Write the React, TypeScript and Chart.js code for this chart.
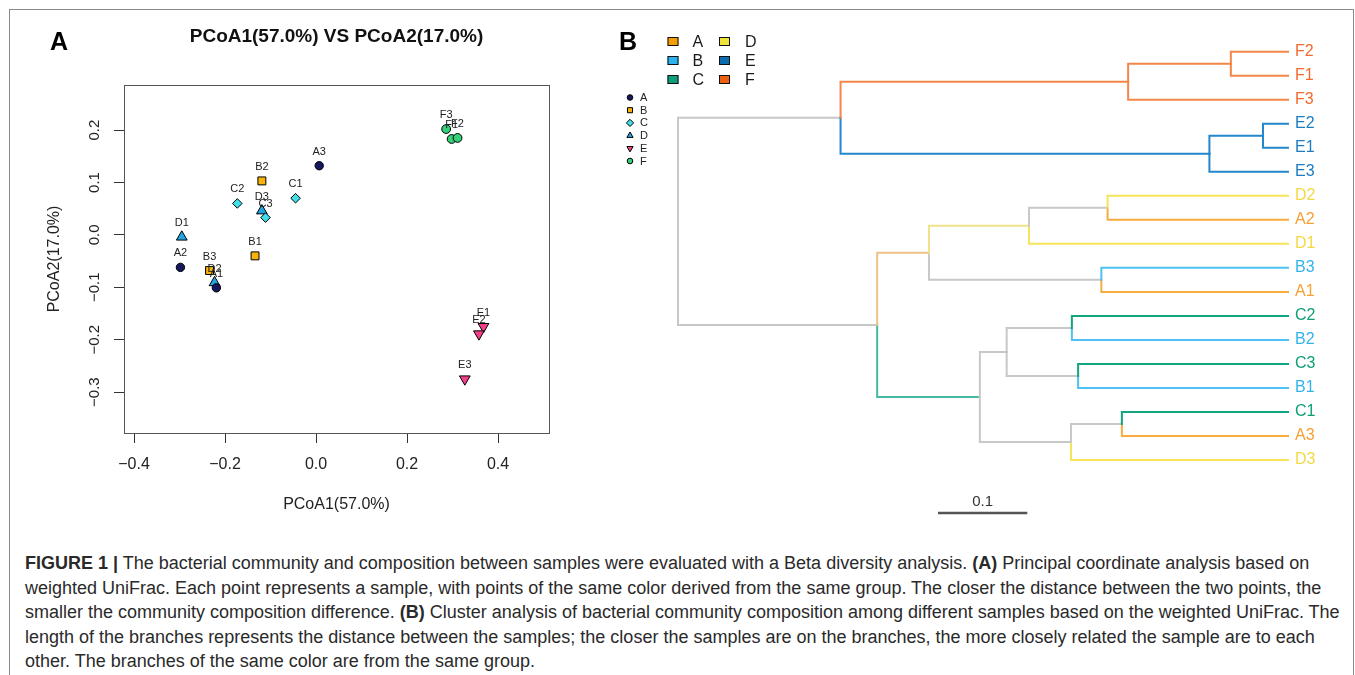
import React, { useEffect, useRef } from 'react';
import { Chart, registerables } from 'chart.js';

Chart.register(...registerables);

const FONT = "'Liberation Sans', Arial, Helvetica, sans-serif";

// ---------------- Panel A: PCoA data ----------------
const sampleNames = ['A1', 'A2', 'A3', 'B1', 'B2', 'B3', 'C1', 'C2', 'C3', 'D1', 'D2', 'D3', 'E1', 'E2', 'E3', 'F1', 'F2', 'F3'];
const pcoa1Values = [-0.219, -0.298, 0.007, -0.134, -0.119, -0.234, -0.045, -0.173, -0.111, -0.295, -0.223, -0.119, 0.368, 0.358, 0.327, 0.298, 0.311, 0.286];
const pcoa2Values = [-0.101, -0.062, 0.132, -0.040, 0.103, -0.068, 0.070, 0.060, 0.033, -0.004, -0.091, 0.046, -0.175, -0.189, -0.275, 0.183, 0.185, 0.202];
const groupNames = ['A', 'B', 'C', 'D', 'E', 'F'];
const pcoaXTicks = [-0.4, -0.2, 0, 0.2, 0.4];
const pcoaYTicks = [-0.3, -0.2, -0.1, 0, 0.1, 0.2];
const pcoaXRange = [-0.422, 0.512];
const pcoaYRange = [-0.378, 0.286];
const pcoaTitle = 'PCoA1(57.0%) VS PCoA2(17.0%)';
const pcoaXTitle = 'PCoA1(57.0%)';
const pcoaYTitle = 'PCoA2(17.0%)';

// ---------------- Panel B: cluster tree data ----------------
const leafLabels = ['F2', 'F1', 'F3', 'E2', 'E1', 'E3', 'D2', 'A2', 'D1', 'B3', 'A1', 'C2', 'B2', 'C3', 'B1', 'C1', 'A3', 'D3'];
// hclust-style merges: negative = leaf (1-based), positive = earlier merge (1-based)
const mergeLeft = [-4, -1, 1, 2, -16, -7, -10, -14, -12, 5, 6, 9, 12, 11, 14, 4, 16];
const mergeRight = [-5, -2, -6, -3, -17, -8, -11, -15, -13, -18, -9, 8, 10, 7, 13, 3, 15];
const mergeHeight = [0.028, 0.064, 0.088, 0.179, 0.186, 0.202, 0.209, 0.235, 0.242, 0.243, 0.290, 0.315, 0.345, 0.402, 0.460, 0.501, 0.683];
const scaleBarValue = 0.1;

// ---------------- Styles ----------------
const pointStyles: Record<string, { shape: string; radius: number; rotation: number; color: string }> = {
  A: { shape: 'circle', radius: 4.2, rotation: 0, color: '#17175E' },
  B: { shape: 'rect', radius: 5.6, rotation: 0, color: '#F9B208' },
  C: { shape: 'rectRot', radius: 4.8, rotation: 0, color: '#3FE0EA' },
  D: { shape: 'triangle', radius: 6.2, rotation: 0, color: '#22A5E0' },
  E: { shape: 'triangle', radius: 6.2, rotation: 180, color: '#F2408A' },
  F: { shape: 'circle', radius: 4.4, rotation: 0, color: '#35D07A' },
};
const treeLineColor: Record<string, string> = {
  A: '#F8AB3E', B: '#4EC2F2', C: '#12A57F', D: '#F6E35A', E: '#2387CC', F: '#F4864A',
};
const treeLabelColor: Record<string, string> = {
  A: '#F7A033', B: '#33B3EA', C: '#0E9E76', D: '#F3D846', E: '#1D7CC2', F: '#F26A30',
};
const legendFill: Record<string, string> = {
  A: '#F29F05', B: '#2DB2EE', C: '#0F9F78', D: '#EEE43A', E: '#0E6DAE', F: '#EA6212',
};
const GRAY = '#C8C8C8';
const mergeColor = [
  treeLineColor.E, treeLineColor.F, treeLineColor.E, treeLineColor.F,
  GRAY, GRAY, GRAY, GRAY, GRAY, GRAY, '#F0E386', GRAY, '#45B9A2', '#EDC285', GRAY, GRAY, GRAY,
];

const fmt = (v: number) => (v < 0 ? '\u2212' : '') + Math.abs(v).toFixed(1);

function buildTreeSegments() {
  const nodeY: number[] = [];
  const info = (ref: number) =>
    ref < 0
      ? { h: 0, y: -ref - 1, color: treeLineColor[leafLabels[-ref - 1][0]] }
      : { h: mergeHeight[ref - 1], y: nodeY[ref - 1], color: mergeColor[ref - 1] };
  const segs: { color: string; data: { x: number; y: number }[] }[] = [];
  for (let k = 0; k < mergeHeight.length; k++) {
    const a = info(mergeLeft[k]);
    const b = info(mergeRight[k]);
    const y = (a.y + b.y) / 2;
    nodeY[k] = y;
    const H = mergeHeight[k];
    [a, b].forEach((c) => {
      segs.push({ color: c.color, data: [{ x: H, y }, { x: H, y: c.y }, { x: c.h, y: c.y }] });
    });
  }
  return segs;
}

function drawSymbol(ctx: CanvasRenderingContext2D, shape: string, rot: number, x: number, y: number, r: number, fill: string) {
  ctx.save();
  ctx.beginPath();
  if (shape === 'circle') {
    ctx.arc(x, y, r, 0, Math.PI * 2);
  } else if (shape === 'rect') {
    const s = r * Math.SQRT1_2;
    ctx.rect(x - s, y - s, 2 * s, 2 * s);
  } else if (shape === 'rectRot') {
    ctx.moveTo(x, y - r); ctx.lineTo(x + r, y); ctx.lineTo(x, y + r); ctx.lineTo(x - r, y); ctx.closePath();
  } else {
    const d = rot ? -1 : 1;
    ctx.moveTo(x, y - d * r);
    ctx.lineTo(x + r * 0.866, y + d * r * 0.5);
    ctx.lineTo(x - r * 0.866, y + d * r * 0.5);
    ctx.closePath();
  }
  ctx.fillStyle = fill;
  ctx.fill();
  ctx.lineWidth = 1;
  ctx.strokeStyle = '#000';
  ctx.stroke();
  ctx.restore();
}

const panelAPlugin = {
  id: 'panelA',
  afterDatasetsDraw(chart: any) {
    const ctx = chart.ctx as CanvasRenderingContext2D;
    ctx.save();
    ctx.font = `11px ${FONT}`;
    ctx.fillStyle = '#222';
    ctx.textAlign = 'center';
    ctx.textBaseline = 'middle';
    chart.data.datasets.forEach((ds: any, i: number) => {
      const meta = chart.getDatasetMeta(i);
      meta.data.forEach((pt: any, j: number) => {
        ctx.fillText(ds.names[j], pt.x, pt.y - 14);
      });
    });
    ctx.restore();
  },
  afterDraw(chart: any) {
    const ctx = chart.ctx as CanvasRenderingContext2D;
    const ca = chart.chartArea;
    const ys = chart.scales.y;
    ctx.save();
    ctx.strokeStyle = '#555';
    ctx.lineWidth = 1;
    ctx.strokeRect(Math.round(ca.left) + 0.5, Math.round(ca.top) + 0.5, Math.round(ca.right - ca.left), Math.round(ca.bottom - ca.top));
    ctx.fillStyle = '#222';
    ctx.textAlign = 'center';
    ctx.textBaseline = 'middle';
    ctx.font = `15px ${FONT}`;
    pcoaYTicks.forEach((v) => {
      const py = ys.getPixelForValue(v);
      ctx.save();
      ctx.translate(95, py);
      ctx.rotate(-Math.PI / 2);
      ctx.fillText(fmt(v), 0, 0);
      ctx.restore();
    });
    const cx = (ca.left + ca.right) / 2;
    const cy = (ca.top + ca.bottom) / 2;
    ctx.font = `bold 19px ${FONT}`;
    ctx.fillStyle = '#111';
    ctx.fillText(pcoaTitle, cx, 37);
    ctx.font = `16px ${FONT}`;
    ctx.fillStyle = '#222';
    ctx.fillText(pcoaXTitle, cx, 505);
    ctx.save();
    ctx.translate(55, cy);
    ctx.rotate(-Math.PI / 2);
    ctx.fillText(pcoaYTitle, 0, 0);
    ctx.restore();
    ctx.restore();
  },
};

const panelBPlugin = {
  id: 'panelB',
  afterDraw(chart: any) {
    const ctx = chart.ctx as CanvasRenderingContext2D;
    const xs = chart.scales.x;
    const OX = 600;
    ctx.save();
    // group colour legend
    const cols = [['A', 'B', 'C'], ['D', 'E', 'F']];
    const rowY = [41.5, 60.5, 79.5];
    const sqX = [667.5, 719];
    const txX = [692.5, 745];
    ctx.font = `16px ${FONT}`;
    ctx.textBaseline = 'middle';
    ctx.textAlign = 'left';
    cols.forEach((col, ci) => {
      col.forEach((g, ri) => {
        ctx.fillStyle = legendFill[g];
        ctx.fillRect(sqX[ci] - OX, rowY[ri] - 4.5, 11, 9);
        ctx.strokeStyle = '#111';
        ctx.lineWidth = 1;
        ctx.strokeRect(sqX[ci] - OX + 0.5, rowY[ri] - 4.5 + 0.5, 10, 8);
        ctx.fillStyle = '#1a1a1a';
        ctx.fillText(g, txX[ci] - OX, rowY[ri] + 1);
      });
    });
    // point symbol legend
    ctx.font = `11px ${FONT}`;
    groupNames.forEach((g, i) => {
      const y = 97.5 + i * 12.7;
      const st = pointStyles[g];
      drawSymbol(ctx, st.shape, st.rotation, 630 - OX, y, st.shape === 'circle' ? 2.8 : 3.6, st.color);
      ctx.fillStyle = '#222';
      ctx.fillText(g, 640 - OX, y + 0.5);
    });
    // scale bar
    const len = Math.abs(xs.getPixelForValue(0) - xs.getPixelForValue(scaleBarValue));
    const x0 = 938 - OX;
    ctx.strokeStyle = '#555';
    ctx.lineWidth = 2.5;
    ctx.beginPath();
    ctx.moveTo(x0, 513);
    ctx.lineTo(x0 + len, 513);
    ctx.stroke();
    ctx.font = `15px ${FONT}`;
    ctx.fillStyle = '#333';
    ctx.textAlign = 'center';
    ctx.fillText(String(scaleBarValue), x0 + len / 2, 502);
    ctx.restore();
  },
};

function configA(): any {
  const datasets = groupNames.map((g) => {
    const idx = sampleNames.map((n, i) => (n[0] === g ? i : -1)).filter((i) => i >= 0);
    const st = pointStyles[g];
    return {
      label: g,
      names: idx.map((i) => sampleNames[i]),
      data: idx.map((i) => ({ x: pcoa1Values[i], y: pcoa2Values[i] })),
      pointStyle: st.shape,
      pointRadius: st.radius,
      pointRotation: st.rotation,
      pointBackgroundColor: st.color,
      pointBorderColor: '#000',
      pointBorderWidth: 1,
      clip: false,
    };
  });
  return {
    type: 'scatter',
    data: { datasets },
    options: {
      responsive: false,
      animation: false,
      devicePixelRatio: 1,
      layout: { padding: { left: 0, right: 11, top: 85, bottom: 0 } },
      plugins: { legend: { display: false }, tooltip: { enabled: false }, title: { display: false } },
      scales: {
        x: {
          type: 'linear',
          min: pcoaXRange[0],
          max: pcoaXRange[1],
          afterBuildTicks: (s: any) => { s.ticks = pcoaXTicks.map((v) => ({ value: v })); },
          afterFit: (s: any) => { s.height = 97; },
          grid: { drawOnChartArea: false, drawTicks: true, tickLength: 10, color: '#333', lineWidth: 1 },
          border: { display: false },
          ticks: { font: { family: FONT, size: 16 }, color: '#222', padding: 12, minRotation: 0, maxRotation: 0, callback: (v: number) => fmt(v) },
        },
        y: {
          type: 'linear',
          min: pcoaYRange[0],
          max: pcoaYRange[1],
          afterBuildTicks: (s: any) => { s.ticks = pcoaYTicks.map((v) => ({ value: v })); },
          afterFit: (s: any) => { s.width = 124; },
          grid: { drawOnChartArea: false, drawTicks: true, tickLength: 10, color: '#333', lineWidth: 1 },
          border: { display: false },
          ticks: { display: false },
        },
      },
    },
    plugins: [panelAPlugin],
  };
}

function configB(): any {
  const segs = buildTreeSegments();
  const datasets = segs.map((s) => ({
    data: s.data,
    showLine: true,
    borderColor: s.color,
    borderWidth: 2,
    pointRadius: 0,
    pointHoverRadius: 0,
    fill: false,
    tension: 0,
    clip: false,
    borderCapStyle: 'square',
  }));
  return {
    type: 'scatter',
    data: { datasets },
    options: {
      responsive: false,
      animation: false,
      devicePixelRatio: 1,
      layout: { padding: { left: 78, right: 0, top: 51.7, bottom: 70 } },
      plugins: { legend: { display: false }, tooltip: { enabled: false } },
      scales: {
        x: { type: 'linear', display: false, reverse: true, min: 0, max: mergeHeight[mergeHeight.length - 1] },
        y: {
          type: 'linear',
          position: 'right',
          reverse: true,
          min: 0,
          max: leafLabels.length - 1,
          afterBuildTicks: (s: any) => { s.ticks = leafLabels.map((_, i) => ({ value: i })); },
          afterFit: (s: any) => { s.width = 67; },
          grid: { display: false, drawTicks: false },
          border: { display: false },
          ticks: {
            autoSkip: false,
            padding: 7,
            font: { family: FONT, size: 16 },
            color: (c: any) => treeLabelColor[leafLabels[c.index][0]],
            callback: (_v: number, i: number) => leafLabels[i],
          },
        },
      },
    },
    plugins: [panelBPlugin],
  };
}

const captionLines: React.ReactNode[] = [
  <>
    <b>FIGURE 1</b> <span style={{ fontWeight: 700 }}>|</span> The bacterial community and composition between samples were evaluated with a Beta diversity analysis. <b>(A)</b> Principal coordinate analysis based on
  </>,
  <>weighted UniFrac. Each point represents a sample, with points of the same color derived from the same group. The closer the distance between the two points, the</>,
  <>
    smaller the community composition difference. <b>(B)</b> Cluster analysis of bacterial community composition among different samples based on the weighted UniFrac. The
  </>,
  <>length of the branches represents the distance between the samples; the closer the samples are on the branches, the more closely related the sample are to each</>,
  <>other. The branches of the same color are from the same group.</>,
];

export default function App() {
  const aRef = useRef<HTMLCanvasElement>(null);
  const bRef = useRef<HTMLCanvasElement>(null);
  useEffect(() => {
    const chartA = new Chart(aRef.current as HTMLCanvasElement, configA());
    const chartB = new Chart(bRef.current as HTMLCanvasElement, configB());
    return () => {
      chartA.destroy();
      chartB.destroy();
    };
  }, []);
  return (
    <div style={{ position: 'absolute', left: 0, top: 0, width: 1355, height: 675, background: '#fff', overflow: 'hidden', fontFamily: FONT }}>
      <div style={{ position: 'absolute', left: 9, top: 9, width: 1343, height: 720, border: '1.5px solid #8a8a8a' }} />
      <canvas ref={aRef} width={560} height={530} style={{ position: 'absolute', left: 0, top: 0, width: 560, height: 530 }} />
      <canvas ref={bRef} width={755} height={530} style={{ position: 'absolute', left: 600, top: 0, width: 755, height: 530 }} />
      <div style={{ position: 'absolute', left: 50, top: 29, fontSize: 25, lineHeight: '25px', fontWeight: 700, color: '#000' }}>A</div>
      <div style={{ position: 'absolute', left: 619, top: 29, fontSize: 25, lineHeight: '25px', fontWeight: 700, color: '#000' }}>B</div>
      <div style={{ position: 'absolute', left: 25, top: 551, fontSize: 18, lineHeight: '24.5px', color: '#2a2a2a', whiteSpace: 'nowrap' }}>
        {captionLines.map((l, i) => (
          <div key={i}>{l}</div>
        ))}
      </div>
    </div>
  );
}
